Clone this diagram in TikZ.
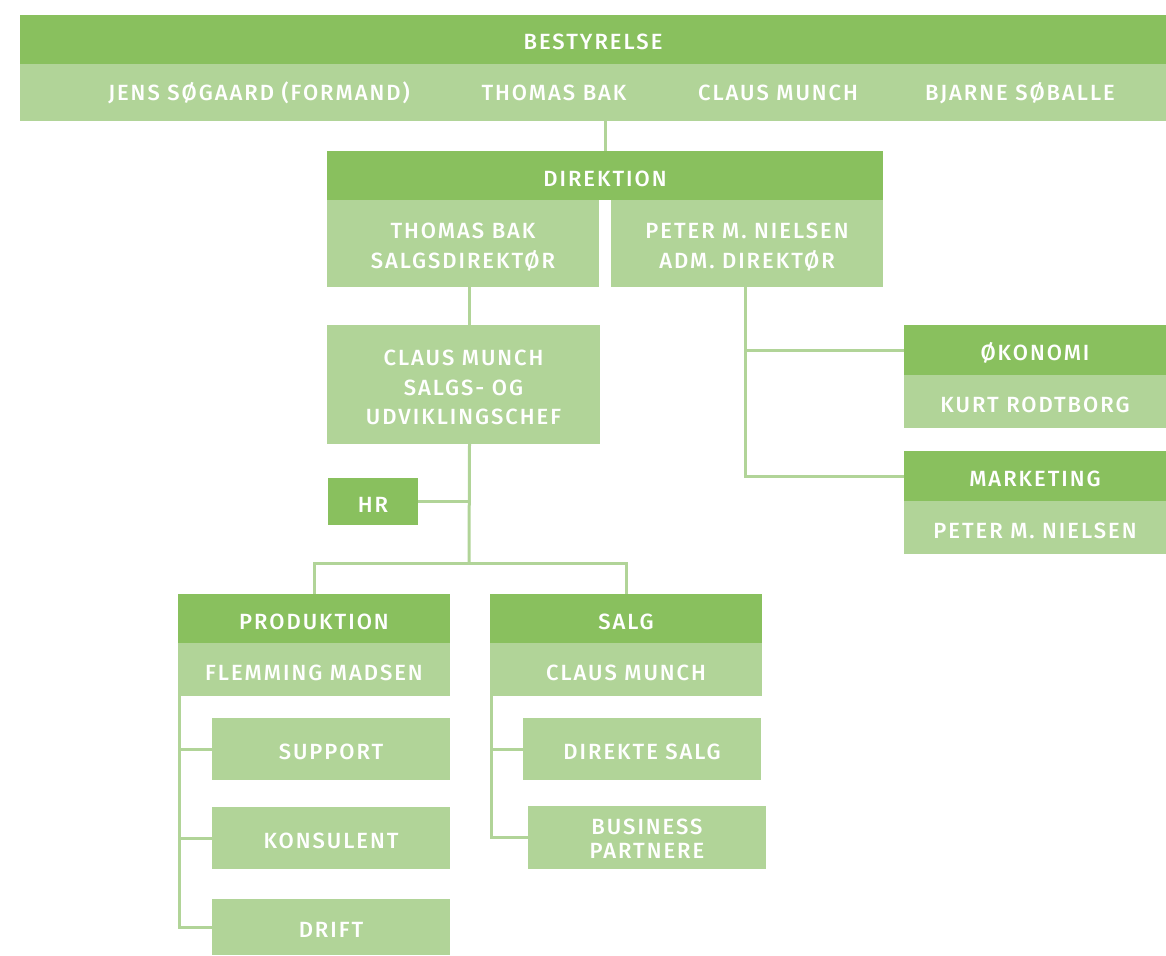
\documentclass[tikz,border=0pt]{standalone}
\usepackage{fontspec}
\setmainfont{Fira Sans}[LetterSpace=9, BoldFont={Fira Sans Medium}]
\definecolor{dkg}{RGB}{137,192,94}
\definecolor{ltg}{RGB}{177,212,152}
\begin{document}
\begin{tikzpicture}[x=1pt,y=-1pt,
  box/.style={anchor=north west, inner sep=0pt, outer sep=0pt, text=white, align=center,
    font=\fontsize{22}{29.5}\selectfont\bfseries, text height=21pt, text depth=0pt},
  two/.style={text height=49.7pt},
  three/.style={text height=80pt},
  dk/.style={box, fill=dkg},
  lt/.style={box, fill=ltg},
  txt/.style={inner sep=0pt, text=white, font=\fontsize{22}{29.5}\selectfont\bfseries},
  conn/.style={draw=ltg, line width=3pt}]
\useasboundingbox (0,0) rectangle (1166,955);
% Bestyrelse
\node[dk, minimum width=1146pt, minimum height=49pt] (bestD) at (20,15) {BESTYRELSE};
\node[lt, minimum width=1146pt, minimum height=57pt] (bestL) at (20,64) {};
\node[txt] (n1) at (259,93) {JENS SØGAARD (FORMAND)};
\node[txt] (n2) at (554,93) {THOMAS BAK};
\node[txt] (n3) at (778,93) {CLAUS MUNCH};
\node[txt] (n4) at (1020,93) {BJARNE SØBALLE};
% Direktion
\node[dk, minimum width=556pt, minimum height=49pt] (dirD) at (327,151) {DIREKTION};
\node[lt, two, minimum width=272pt, minimum height=87pt] (tb) at (327,200) {THOMAS BAK\\SALGSDIREKTØR};
\node[lt, two, minimum width=272pt, minimum height=87pt] (pmn) at (611,200) {PETER M. NIELSEN\\ADM. DIREKTØR};
% Claus Munch
\node[lt, three, minimum width=273pt, minimum height=119pt] (cm) at (327,325) {CLAUS MUNCH\\SALGS- OG\\UDVIKLINGSCHEF};
\node[dk, minimum width=90pt, minimum height=47pt] (hr) at (328,478) {HR};
% Produktion
\node[dk, minimum width=272pt, minimum height=49pt] (prodD) at (178,594) {PRODUKTION};
\node[lt, minimum width=272pt, minimum height=53pt] (prodL) at (178,643) {FLEMMING MADSEN};
\node[lt, minimum width=238pt, minimum height=62pt] (sup) at (212,718) {SUPPORT};
\node[lt, minimum width=238pt, minimum height=62pt] (kon) at (212,807) {KONSULENT};
\node[lt, minimum width=238pt, minimum height=56pt] (drift) at (212,899) {DRIFT};
% Salg
\node[dk, minimum width=272pt, minimum height=49pt] (salgD) at (490,594) {SALG};
\node[lt, minimum width=272pt, minimum height=53pt] (salgL) at (490,643) {CLAUS MUNCH};
\node[lt, minimum width=238pt, minimum height=62pt] (ds) at (523,718) {DIREKTE SALG};
\node[lt, minimum width=238pt, minimum height=63pt, font=\fontsize{22}{24}\selectfont\bfseries, text height=42.2pt] (bp) at (528,806) {BUSINESS\\PARTNERE};
% Okonomi / Marketing
\node[dk, minimum width=262pt, minimum height=50pt] (okoD) at (904,325) {ØKONOMI};
\node[lt, minimum width=262pt, minimum height=53pt] (okoL) at (904,375) {KURT RODTBORG};
\node[dk, minimum width=262pt, minimum height=50pt] (mktD) at (904,451) {MARKETING};
\node[lt, minimum width=262pt, minimum height=53pt] (mktL) at (904,501) {PETER M. NIELSEN};
% connectors
\draw[conn] (bestL.south -| dirD.north) -- (dirD.north);
\draw[conn] ([xshift=6pt]tb.south) -- ([xshift=6pt]tb.south |- cm.north);
\coordinate (j) at (469,563);
\draw[conn] ([xshift=6pt]cm.south) -- (j);
\draw[conn] (hr.east) -- (hr.east -| j);
\draw[conn] (prodD.north) |- (j) -| (salgD.north);
\coordinate (ps) at ([xshift=1.5pt]prodL.south west);
\draw[conn] (ps) |- (drift.west);
\draw[conn] (sup.west) -- (sup.west -| ps);
\draw[conn] (kon.west) -- (kon.west -| ps);
\coordinate (ss) at ([xshift=1.5pt]salgL.south west);
\draw[conn] (ss) |- (bp.west);
\draw[conn] (ds.west) -- (ds.west -| ss);
\coordinate (pr) at ([xshift=-2pt]pmn.south);
\draw[conn] (pr) |- (mktD.west);
\draw[conn] (okoD.west) -- (okoD.west -| pr);
\end{tikzpicture}
\end{document}
